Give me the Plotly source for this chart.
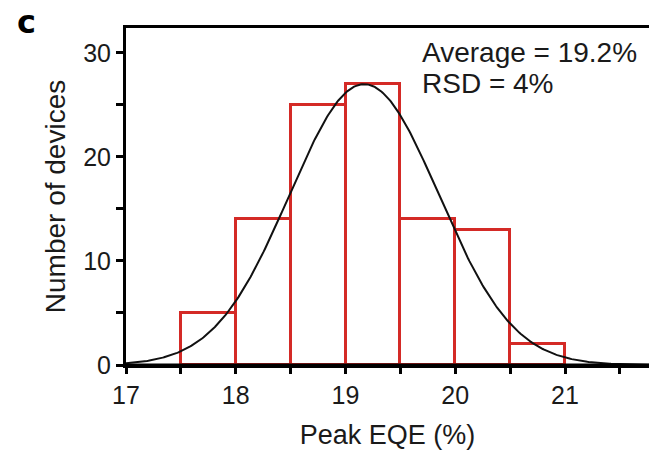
import numpy as np
import plotly.graph_objects as go

# Histogram of peak EQE values (bin left edges, bin width 0.5 %)
bin_starts = [17.5, 18.0, 18.5, 19.0, 19.5, 20.0, 20.5]
bin_width = 0.5
device_counts = [5, 14, 25, 27, 14, 13, 2]

# Gaussian fit parameters
fit_amplitude = 27.0
fit_mean = 19.17
fit_sigma = 0.68

x_ticks = [17, 18, 19, 20, 21]
y_ticks = [0, 10, 20, 30]

centers = [s + bin_width / 2 for s in bin_starts]
x_max = 17 + (649 - 126) / 109.75
xf = np.linspace(17.0, x_max, 400)
yf = fit_amplitude * np.exp(-((xf - fit_mean) ** 2) / (2 * fit_sigma ** 2))

red = "#d42a26"
font = "Liberation Sans, Arial, Helvetica, sans-serif"

# plot-area geometry in pixels (for placing text)
L, R, T, B = 126, 0, 28, 88
W, H = 649 - L - R, 453 - T - B


def px(x):
    return (x - L) / W


def py(y):
    return (453 - B - y) / H


fig = go.Figure()
fig.add_trace(go.Bar(
    x=centers, y=device_counts, width=bin_width,
    marker=dict(color="rgba(255,255,255,0)", line=dict(color=red, width=3)),
    showlegend=False, hoverinfo="x+y",
))
fig.add_trace(go.Scatter(
    x=xf, y=yf, mode="lines",
    line=dict(color="#111111", width=2), showlegend=False,
))

fig.update_layout(
    width=649, height=453,
    margin=dict(l=L, r=R, t=T, b=B),
    paper_bgcolor="white", plot_bgcolor="white",
    font=dict(family=font, size=25, color="#1a1a1a"),
    bargap=0,
    shapes=[
        # solid baseline over the bars' lower edges
        dict(type="line", xref="paper", yref="y", x0=0, x1=1, y0=0, y1=0,
             line=dict(color="black", width=3), layer="above"),
    ],
    annotations=[
        dict(text="<b>c</b>", x=px(15), y=py(22), xref="paper", yref="paper", showarrow=False,
             xanchor="left", yanchor="middle",
             font=dict(size=32, color="black", family="DejaVu Sans, Arial Black, sans-serif")),
        dict(text="Average = 19.2%", xref="paper", yref="paper",
             x=px(420), y=py(52), xanchor="left", yanchor="middle",
             showarrow=False, font=dict(size=28)),
        dict(text="RSD = 4%", xref="paper", yref="paper",
             x=px(420), y=py(83), xanchor="left", yanchor="middle",
             showarrow=False, font=dict(size=28)),
    ],
)

fig.update_xaxes(
    range=[17, x_max],
    tickvals=x_ticks, ticktext=[str(v) for v in x_ticks],
    ticks="outside", ticklen=6, tickwidth=2.5, tickcolor="black",
    minor=dict(dtick=0.5, tick0=17, ticks="outside", ticklen=6, tickwidth=2.5, tickcolor="black"),
    showline=True, linewidth=3, linecolor="black", mirror=True,
    showgrid=False, zeroline=False, layer="above traces",
    title=dict(text="Peak EQE (%)", font=dict(size=27), standoff=18),
)
fig.update_yaxes(
    range=[0, 32.4],
    tickvals=y_ticks, ticktext=[str(v) for v in y_ticks],
    ticks="outside", ticklen=7, tickwidth=2.5, tickcolor="black",
    minor=dict(dtick=5, tick0=0, ticks="outside", ticklen=7, tickwidth=2.5, tickcolor="black"),
    showline=True, linewidth=3, linecolor="black",
    showgrid=False, zeroline=False, layer="above traces",
    title=dict(text="Number of devices", font=dict(size=28), standoff=10),
)

fig.write_html("out.html")
